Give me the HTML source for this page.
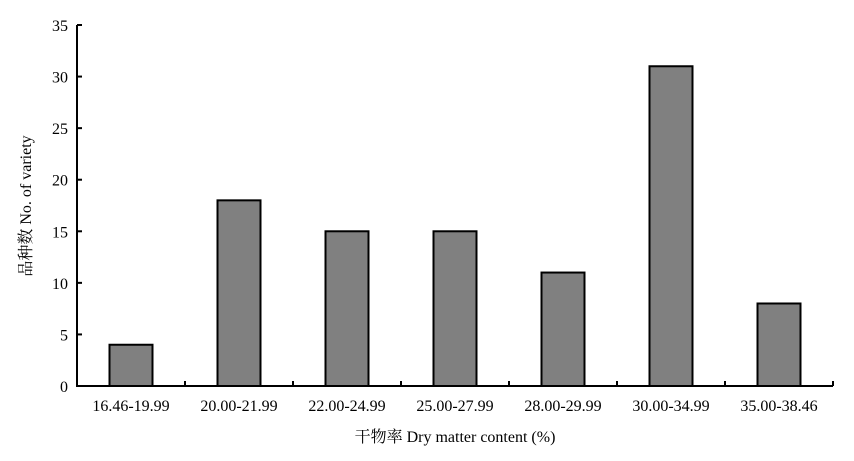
<!DOCTYPE html>
<html><head><meta charset="utf-8"><style>
body{margin:0;background:#fff}
svg text{font-family:"Liberation Serif","Noto Serif CJK SC",serif;fill:#000}
</style></head><body>
<svg id="chart" width="854" height="456" xmlns="http://www.w3.org/2000/svg"></svg>
<script>
const categories=["16.46-19.99","20.00-21.99","22.00-24.99","25.00-27.99","28.00-29.99","30.00-34.99","35.00-38.46"];
const values=[4,18,15,15,11,31,8];
const yTicks=[0,5,10,15,20,25,30,35];
const X0=77,X1=833,Y0=386,Y1=25,YMAX=35;
const band=(X1-X0)/categories.length;
const y=v=>Y0-(Y0-Y1)*v/YMAX;
const x=i=>X0+band*i;
const svg=document.getElementById('chart');
const NS="http://www.w3.org/2000/svg";
function mk(t,a,p){const e=document.createElementNS(NS,t);for(const k in a)e.setAttribute(k,a[k]);(p||svg).appendChild(e);return e;}
values.forEach((v,i)=>{
 const r=mk('rect',{x:x(i)+band/2-21.5,y:y(v),width:43,height:Y0-y(v),fill:'#808080',stroke:'#000','stroke-width':2});
 
 
 const t=mk('text',{x:x(i)+band/2,y:411,'font-size':16,'text-anchor':'middle'});
 t.textContent=categories[i];
 
 
});
for(let i=1;i<=categories.length;i++){
 const l=mk('line',{x1:x(i),x2:x(i),y1:Y0,y2:Y0-5,stroke:'#000','stroke-width':2});
 
 
}
yTicks.forEach(v=>{
 const l=mk('line',{x1:X0,x2:X0+5,y1:y(v),y2:y(v),stroke:'#000','stroke-width':2});
 
 
 const t=mk('text',{x:68,y:y(v)+6,'font-size':16,'text-anchor':'end'});
 t.textContent=v;
 
 
});
const ax=mk('path',{d:`M${X0} ${Y1}V${Y0}H${X1}`,fill:'none',stroke:'#000','stroke-width':2});


const xt=mk('text',{x:455,y:442,'font-size':16,'text-anchor':'middle',fill:'#333'});
xt.textContent='干物率 Dry matter content (%)';


const yt=mk('text',{x:0,y:0,'font-size':16,'text-anchor':'middle',transform:'translate(31,206) rotate(-90)',fill:'#333'});
yt.textContent='品种数 No. of variety';


</script>
</body></html>
